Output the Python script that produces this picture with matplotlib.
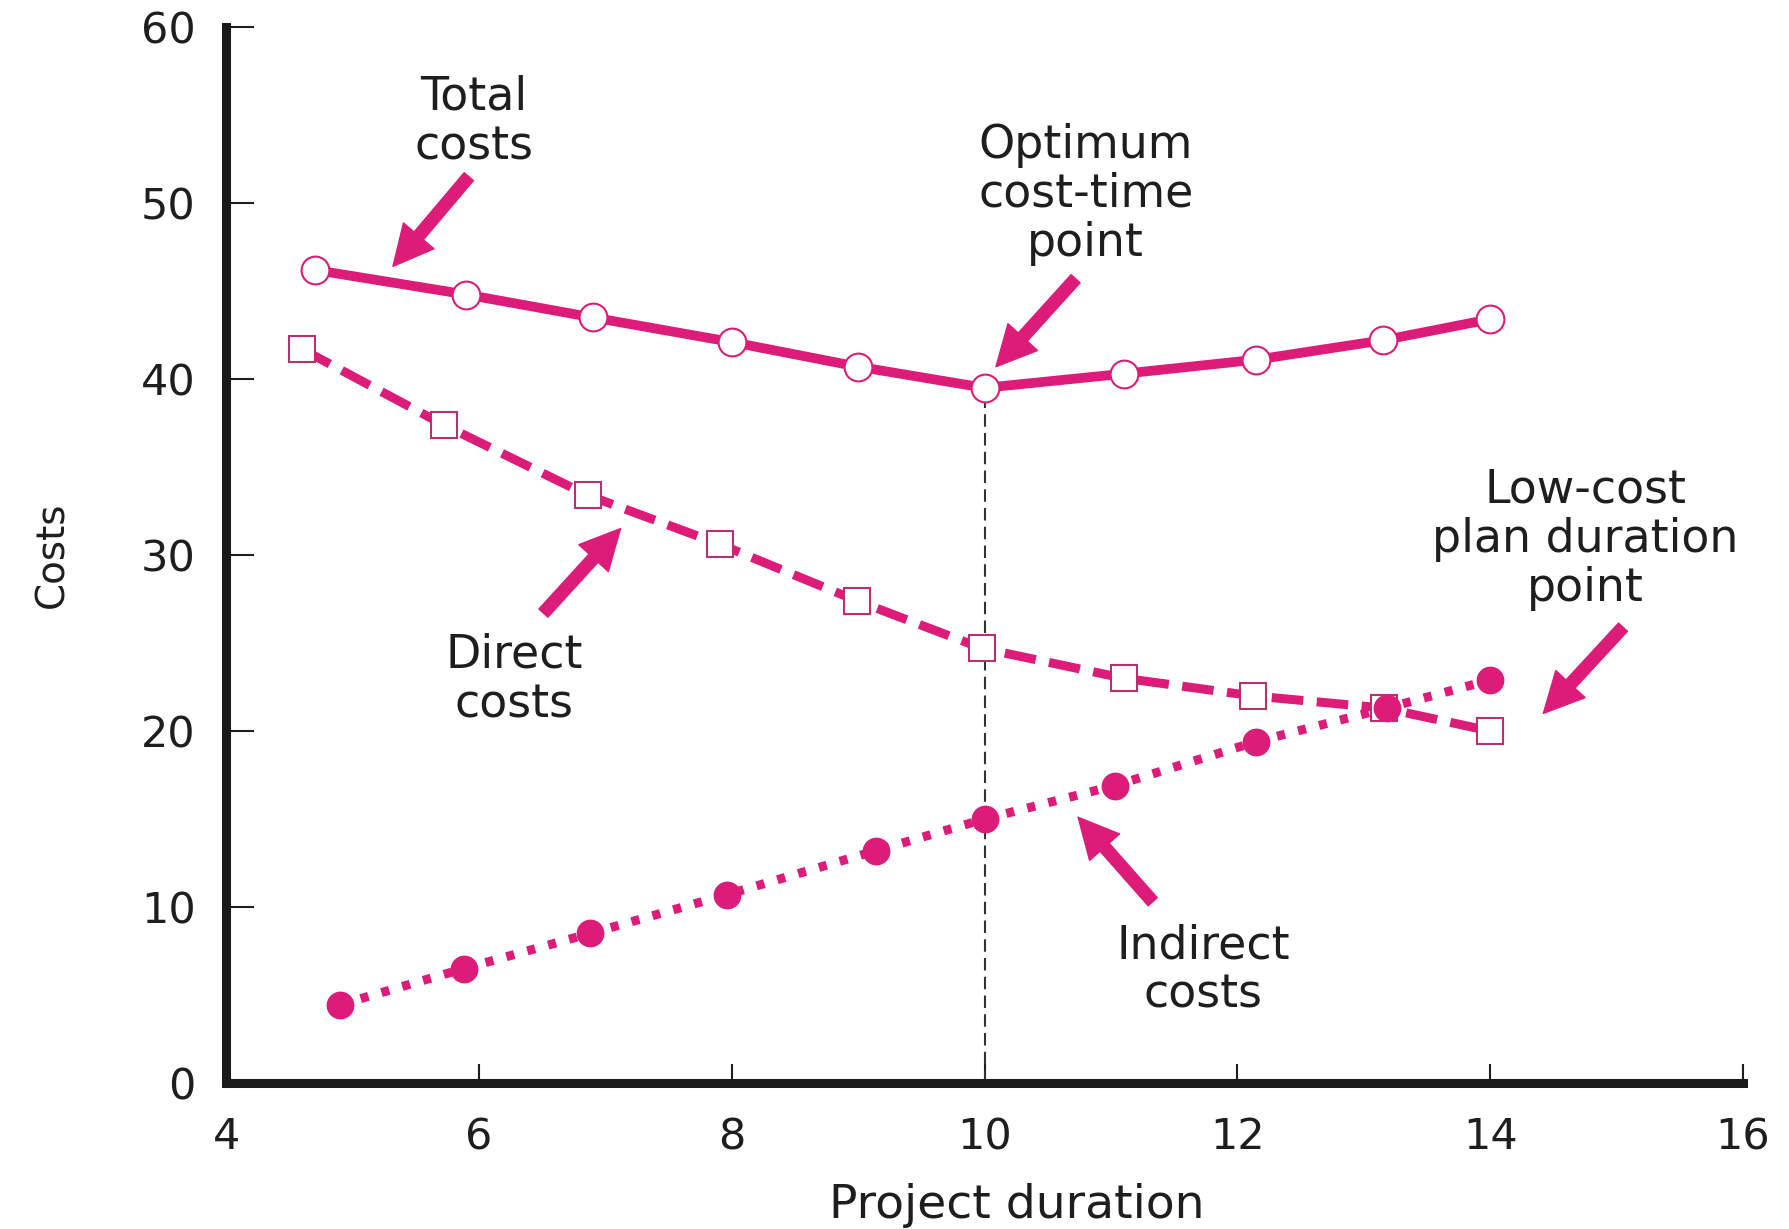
import matplotlib
matplotlib.use("Agg")
import matplotlib.pyplot as plt

plt.rcParams["font.family"] = ["DejaVu Sans"]

# datos
duration_total = [4.7, 5.9, 6.9, 8.0, 9.0, 10.0, 11.1, 12.15, 13.15, 14.0]
total_costs = [46.2, 44.8, 43.5, 42.1, 40.7, 39.5, 40.3, 41.1, 42.2, 43.4]

duration_direct = [4.6, 5.72, 6.86, 7.91, 8.99, 9.98, 11.1, 12.12, 13.16, 14.0]
direct_costs = [41.7, 37.4, 33.4, 30.6, 27.4, 24.7, 23.0, 22.0, 21.3, 20.0]

duration_indirect = [4.9, 5.88, 6.88, 7.96, 9.14, 10.0, 11.03, 12.15, 13.18, 14.0]
indirect_costs = [4.45, 6.5, 8.5, 10.7, 13.2, 15.0, 16.9, 19.4, 21.3, 22.9]

x_ticks = [4, 6, 8, 10, 12, 14, 16]
y_ticks = [0, 10, 20, 30, 40, 50, 60]

PINK = "#DC1C78"
EDGE = "#B8306E"
TEXT = "#1e1e1e"

fig = plt.figure(figsize=(17.9, 12.29), dpi=100)
ax = fig.add_axes([0.1263, 0.1188, 0.8475, 0.8592])

# curvas
ax.plot(duration_total, total_costs, color=PINK, lw=7, marker="o", markersize=20,
        markerfacecolor="white", markeredgecolor=PINK, markeredgewidth=1.5, zorder=3)
ax.plot(duration_direct, direct_costs, color=PINK, lw=6.5, linestyle=(0, (3.5, 1.5)),
        marker="s", markersize=19, markerfacecolor="white", markeredgecolor=EDGE,
        markeredgewidth=1.5, zorder=3)
ax.plot(duration_indirect, indirect_costs, color=PINK, lw=6.5, linestyle=(0, (0.9, 1.5)),
        marker="o", markersize=19, markerfacecolor=PINK, markeredgecolor=PINK, zorder=3)

# línea del punto óptimo
opt = total_costs.index(min(total_costs))
ax.plot([duration_total[opt]] * 2, [0, total_costs[opt]], color="#333333", lw=1.5,
        linestyle=(0, (6, 3)), zorder=2)

# anotaciones con flechas
arrow_style = "simple,head_length=1.15,head_width=1.15,tail_width=0.35"
notes = [
    ("Total\ncosts", (5.96, 54.6), (5.92, 51.5), (5.32, 46.4)),
    ("Optimum\ncost-time\npoint", (10.8, 50.5), (10.72, 45.7), (10.09, 40.7)),
    ("Low-cost\nplan duration\npoint", (14.75, 30.9), (15.05, 25.9), (14.42, 21.0)),
    ("Direct\ncosts", (6.28, 22.9), (6.51, 26.7), (7.12, 31.5)),
    ("Indirect\ncosts", (11.73, 6.4), (11.33, 10.3), (10.74, 15.1)),
]
for label, text_xy, tail, tip in notes:
    ax.text(text_xy[0], text_xy[1], label, ha="center", va="center", fontsize=33,
            color=TEXT, linespacing=1.12)
    ax.annotate("", xy=tip, xytext=tail,
                arrowprops=dict(arrowstyle=arrow_style, color=PINK, mutation_scale=25,
                                shrinkA=0, shrinkB=0))

ax.set_xlim(4, 16)
ax.set_ylim(0, 60)
ax.set_xticks(x_ticks)
ax.set_yticks(y_ticks)
ax.tick_params(axis="both", direction="in", labelsize=31, colors=TEXT, width=1.5)
ax.tick_params(axis="y", length=20, pad=22)
ax.tick_params(axis="x", length=14, pad=24)

for side in ["top", "right"]:
    ax.spines[side].set_visible(False)
for side in ["left", "bottom"]:
    ax.spines[side].set_linewidth(6.5)
    ax.spines[side].set_color("#1a1a1a")

ax.set_xlabel("Project duration", fontsize=34, color=TEXT)
ax.xaxis.set_label_coords(0.521, -0.095)
ax.set_ylabel("Costs", fontsize=28, color=TEXT)
ax.yaxis.set_label_coords(-0.102, 0.5)

fig.savefig("out.png", dpi=100)
